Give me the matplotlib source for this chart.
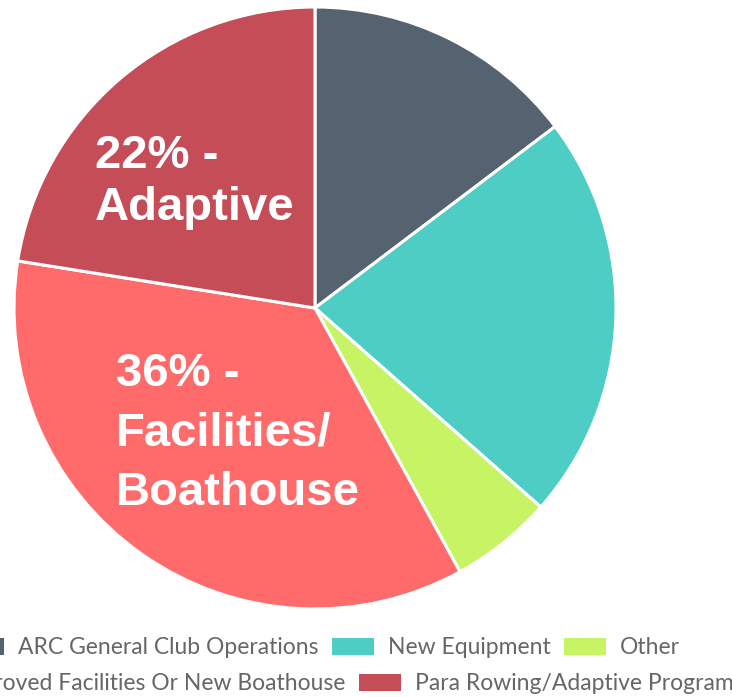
import matplotlib.pyplot as plt
from matplotlib.patches import Patch

# share of spending by category (percent)
categories = ['ARC General Club Operations', 'New Equipment', 'Other',
              'Improved Facilities Or New Boathouse',
              'Para Rowing/Adaptive Program']
shares = [14.7, 21.8, 5.5, 35.5, 22.5]
colors = ['#556270', '#4ecdc4', '#c7f464', '#ff6b6b', '#c44d58']

W, H = 732, 697
fig = plt.figure(figsize=(W / 100, H / 100), dpi=100)

cx, cy, r = 315, 308, 301
ax = fig.add_axes([(cx - r) / W, (H - cy - r) / H, 2 * r / W, 2 * r / H])
ax.pie(shares, colors=colors, startangle=90, counterclock=False, radius=1,
       wedgeprops=dict(edgecolor='white', linewidth=2.2))
ax.set_xlim(-1, 1)
ax.set_ylim(-1, 1)
ax.axis('off')

# big annotations (va='baseline' sits on the last line's baseline)
big = dict(color='white', fontsize=34, fontweight='bold',
           family='Liberation Sans', va='baseline', ha='left')
fig.text(95 / W, 1 - 220 / H, '22% -\nAdaptive', linespacing=1.25, **big)
fig.text(116 / W, 1 - 505 / H, '36% -\nFacilities/\nBoathouse',
         linespacing=1.45, **big)

# legend, two centred rows (wider than the figure, so clipped at the edges)
handles = [Patch(facecolor=c, edgecolor='none') for c in colors]
leg_kw = dict(frameon=False, loc='center', borderpad=0,
              handlelength=1.83, handleheight=0.7, handletextpad=0.6,
              columnspacing=0.6, labelcolor='#666666',
              prop=dict(family='Lato', size=16.5))
fig.legend(handles[:3], categories[:3], ncol=3,
           bbox_to_anchor=(321 / W, 1 - 648 / H), **leg_kw)
fig.legend(handles[3:], categories[3:], ncol=2,
           bbox_to_anchor=(317 / W, 1 - 684 / H), **leg_kw)

fig.savefig('out.png', dpi=100)
